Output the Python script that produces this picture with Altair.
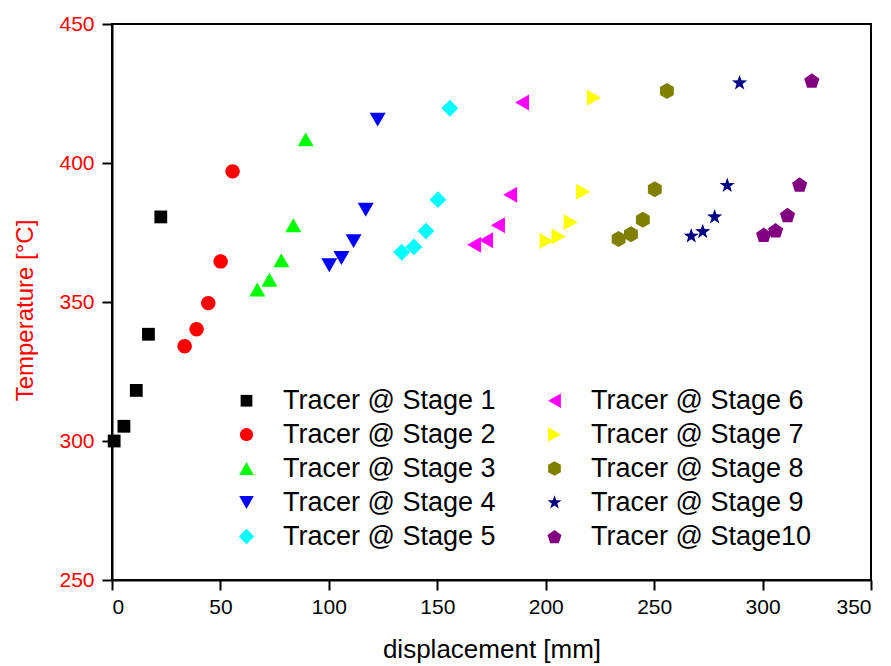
import altair as alt
import pandas as pd
import math

# ---- data ----
stages = ["Tracer @ Stage 1", "Tracer @ Stage 2", "Tracer @ Stage 3", "Tracer @ Stage 4",
          "Tracer @ Stage 5", "Tracer @ Stage 6", "Tracer @ Stage 7", "Tracer @ Stage 8",
          "Tracer @ Stage 9", "Tracer @ Stage10"]

disp_s1 = [1.0, 5.5, 11.2, 16.8, 22.5]
temp_s1 = [300.0, 305.3, 318.2, 338.4, 380.6]
disp_s2 = [33.5, 39.0, 44.4, 50.1, 55.6]
temp_s2 = [334.1, 340.2, 349.6, 364.6, 397.0]
disp_s3 = [67.0, 72.6, 78.1, 83.6, 89.3]
temp_s3 = [354.5, 358.0, 365.0, 377.6, 408.5]
disp_s4 = [100.2, 105.8, 111.4, 117.0, 122.5]
temp_s4 = [363.2, 365.8, 371.9, 383.2, 415.6]
disp_s5 = [133.6, 139.2, 144.8, 150.3, 155.8]
temp_s5 = [367.9, 369.8, 375.5, 386.8, 419.7]
disp_s6 = [167.0, 172.5, 178.0, 183.6, 189.1]
temp_s6 = [370.6, 372.2, 377.6, 388.6, 421.8]
disp_s7 = [200.4, 205.9, 211.5, 217.2, 222.2]
temp_s7 = [371.9, 373.6, 378.7, 389.7, 423.5]
disp_s8 = [233.6, 239.3, 244.8, 250.3, 255.9]
temp_s8 = [372.7, 374.4, 379.6, 390.6, 425.9]
disp_s9 = [267.1, 272.4, 277.9, 283.7, 289.4]
temp_s9 = [373.7, 375.3, 380.6, 391.9, 428.8]
disp_s10 = [300.5, 306.0, 311.5, 317.1, 322.7]
temp_s10 = [374.2, 375.8, 381.3, 392.3, 429.7]

all_disp = [disp_s1, disp_s2, disp_s3, disp_s4, disp_s5, disp_s6, disp_s7, disp_s8, disp_s9, disp_s10]
all_temp = [temp_s1, temp_s2, temp_s3, temp_s4, temp_s5, temp_s6, temp_s7, temp_s8, temp_s9, temp_s10]

x_ticks = [0, 50, 100, 150, 200, 250, 300, 350]
y_ticks = [250, 300, 350, 400, 450]

# ---- styles ----
colors = ["#000000", "#FF0000", "#00FF00", "#0000FF", "#00FFFF",
          "#FF00FF", "#FFFF00", "#808000", "#000080", "#800080"]

star_pts = []
for k in range(10):
    ang = math.radians(-90 + 36 * k)
    r = 1.0 if k % 2 == 0 else 0.40
    star_pts.append(f"{r*math.cos(ang):.3f},{r*math.sin(ang):.3f}")
star_path = "M" + "L".join(star_pts) + "Z"
pent_pts = []
for k in range(5):
    ang = math.radians(-90 + 72 * k)
    pent_pts.append(f"{math.cos(ang):.3f},{math.sin(ang)+0.1:.3f}")
pent_path = "M" + "L".join(pent_pts) + "Z"

shapes = [
    "M-0.8,-0.8L0.8,-0.8L0.8,0.8L-0.8,0.8Z",                      # square
    "M-0.9,0A0.9,0.9 0 1,0 0.9,0A0.9,0.9 0 1,0 -0.9,0Z",           # circle
    "M0,-0.87L1,0.87L-1,0.87Z",                                     # triangle up
    "M0,0.87L1,-0.87L-1,-0.87Z",                                    # triangle down
    "M0,-1.05L1.05,0L0,1.05L-1.05,0Z",                              # diamond
    "M-0.87,0L0.87,-1L0.87,1Z",                                     # triangle left
    "M0.87,0L-0.87,-1L-0.87,1Z",                                    # triangle right
    "M0,-1L0.866,-0.5L0.866,0.5L0,1L-0.866,0.5L-0.866,-0.5Z",       # hexagon
    star_path,                                                      # star
    pent_path,                                                      # pentagon
]

rows = []
for s, ds, ts in zip(stages, all_disp, all_temp):
    for d, t in zip(ds, ts):
        rows.append({"stage": s, "disp": d, "temp": t})
df = pd.DataFrame(rows)

FONT = "Liberation Sans"

legend = alt.Legend(
    title=None, orient="none", legendX=121, legendY=363, columns=2,
    columnPadding=45, rowPadding=6, symbolSize=215, symbolStrokeWidth=0,
    labelFontSize=27, labelFont=FONT, labelColor="#000000", labelOffset=23,
    labelLimit=500, padding=0, symbolOpacity=1,
)

chart = alt.Chart(df).mark_point(filled=True, opacity=1, size=256, strokeWidth=0).encode(
    x=alt.X("disp:Q", title="displacement [mm]",
            scale=alt.Scale(domain=[0, 350], nice=False, zero=False),
            axis=alt.Axis(values=x_ticks, labelColor="#000000", titleColor="#000000",
                          titleFontSize=26, titlePadding=19, labelPadding=6)),
    y=alt.Y("temp:Q", title="Temperature [°C]",
            scale=alt.Scale(domain=[250, 450], nice=False, zero=False),
            axis=alt.Axis(values=y_ticks, labelColor="#FF0000", titleColor="#FF0000",
                          titleFontSize=24, titlePadding=21, labelPadding=8, titleY=286)),
    color=alt.Color("stage:N", scale=alt.Scale(domain=stages, range=colors), legend=legend),
    shape=alt.Shape("stage:N", scale=alt.Scale(domain=stages, range=shapes), legend=legend),
).properties(
    width=759, height=556,
).configure_view(
    stroke="#000000", strokeWidth=2,
).configure_axis(
    grid=False, domainColor="#000000", domainWidth=2, tickColor="#000000", tickWidth=2,
    tickSize=10, labelFont=FONT, titleFont=FONT, labelFontSize=21, titleFontWeight="normal",
)

chart.save("out.html", embed_options={"renderer": "svg", "actions": False})
